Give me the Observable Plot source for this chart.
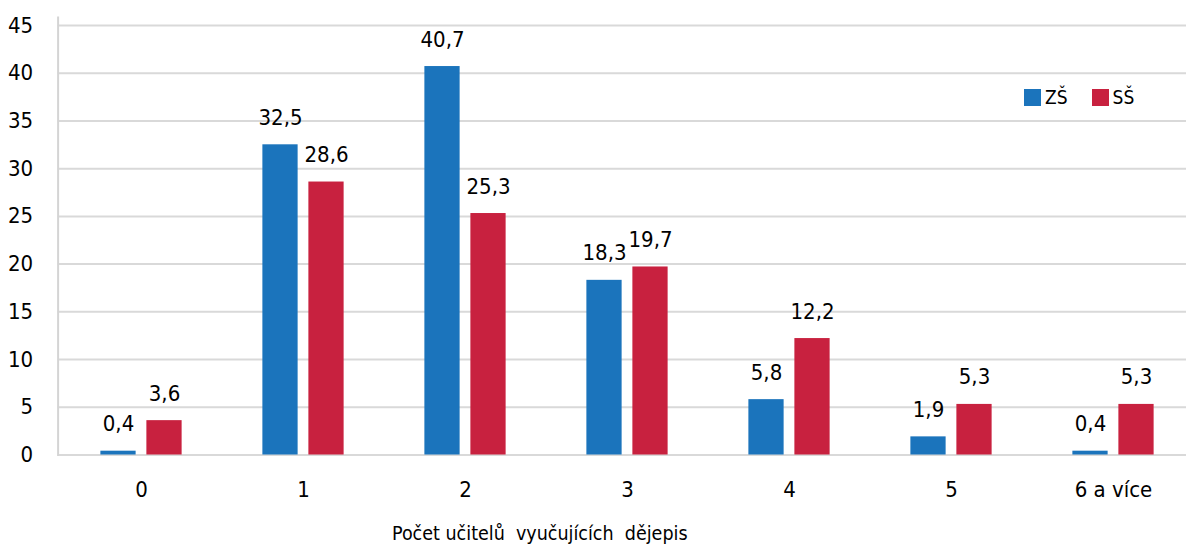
<!DOCTYPE html>
<html>
<head>
<meta charset="utf-8">
<script src="https://cdn.jsdelivr.net/npm/d3@7"></script>
<script src="https://cdn.jsdelivr.net/npm/@observablehq/plot@0.6"></script>
<style>
  html, body { margin: 0; padding: 0; background: #fff; }
  #wrap { position: relative; width: 1186px; height: 554px; font-family: "Liberation Sans Narrow", "DejaVu Sans Condensed", "DejaVu Sans", sans-serif; font-stretch: condensed; color: #000; }
  #wrap svg, #wrap svg text { font-stretch: condensed; }
  #legend { position: absolute; left: 1024px; top: 86px; display: flex; align-items: center; font-size: 19px; }
  #legend .sw { width: 17px; height: 17px; display: inline-block; margin-right: 4px; }
  #legend .item { display: flex; align-items: center; margin-right: 24px; }
  #xtitle { position: absolute; left: 392px; top: 524px; font-size: 19.5px; line-height: 1; white-space: pre; }
</style>
</head>
<body>
<div id="wrap">
  <div id="chart"></div>
  <div id="legend"></div>
  <div id="xtitle"></div>
</div>
<script>
const categories = ["0", "1", "2", "3", "4", "5", "6 a více"];
const seriesNames = ["ZŠ", "SŠ"];
const zsValues = [0.4, 32.5, 40.7, 18.3, 5.8, 1.9, 0.4];
const ssValues = [3.6, 28.6, 25.3, 19.7, 12.2, 5.3, 5.3];
const yTicks = [0, 5, 10, 15, 20, 25, 30, 35, 40, 45];
const xTitle = "Počet učitelů  vyučujících  dějepis";
const colors = ["#1b74bc", "#c8213f"];

const zsRows = categories.map((c, i) => ({cat: c, value: zsValues[i], series: seriesNames[0]}));
const ssRows = categories.map((c, i) => ({cat: c, value: ssValues[i], series: seriesNames[1]}));

const W = 1186, H = 515;
const x0 = 57.6, x1 = 1196.9;
const band = (x1 - x0) / categories.length;
const half = band / 2;
const barW = 36, gap = 5;
const fmt = v => v.toFixed(1).replace(".", ",");
const fontSize = 22;

const chart = Plot.plot({
  width: W,
  height: H,
  marginLeft: x0,
  marginRight: 0,
  marginTop: 17,
  marginBottom: H - 454.5,
  style: {fontFamily: "Liberation Sans Narrow, DejaVu Sans Condensed, DejaVu Sans, sans-serif", fontStretch: "condensed", fontSize: fontSize + "px", color: "#000", background: "#fff"},
  x: {domain: categories, range: [x0, x1], padding: 0},
  y: {domain: [0, 45], range: [454.5, 25]},
  marks: [
    Plot.gridY(yTicks, {stroke: "#d9d9d9", strokeOpacity: 1, strokeWidth: 2}),
    Plot.frame({anchor: "left", stroke: "#d4d4d4", strokeWidth: 2}),
    Plot.barY(zsRows, {x: "cat", y: "value", fill: colors[0], insetLeft: half - gap - barW, insetRight: half + gap}),
    Plot.barY(ssRows, {x: "cat", y: "value", fill: colors[1], insetLeft: half + gap, insetRight: half - gap - barW}),
    Plot.text(zsRows, {x: "cat", y: "value", text: d => fmt(d.value), dx: -(gap + barW / 2), dy: -20, lineAnchor: "bottom", fill: "#000", fontSize}),
    Plot.text(ssRows, {x: "cat", y: "value", text: d => fmt(d.value), dx: (gap + barW / 2), dy: -20, lineAnchor: "bottom", fill: "#000", fontSize}),
    Plot.axisY({ticks: yTicks, tickSize: 0, tickPadding: 25, label: null, fontSize, tickFormat: d => String(d)}),
    Plot.axisX({tickSize: 0, tickPadding: 26, label: null, fontSize})
  ]
});
document.getElementById("chart").appendChild(chart);

const legend = document.getElementById("legend");
seriesNames.forEach((name, i) => {
  const item = document.createElement("div");
  item.className = "item";
  const sw = document.createElement("span");
  sw.className = "sw";
  sw.style.background = colors[i];
  const lab = document.createElement("span");
  lab.textContent = name;
  item.appendChild(sw);
  item.appendChild(lab);
  legend.appendChild(item);
});
document.getElementById("xtitle").textContent = xTitle;
</script>
</body>
</html>
